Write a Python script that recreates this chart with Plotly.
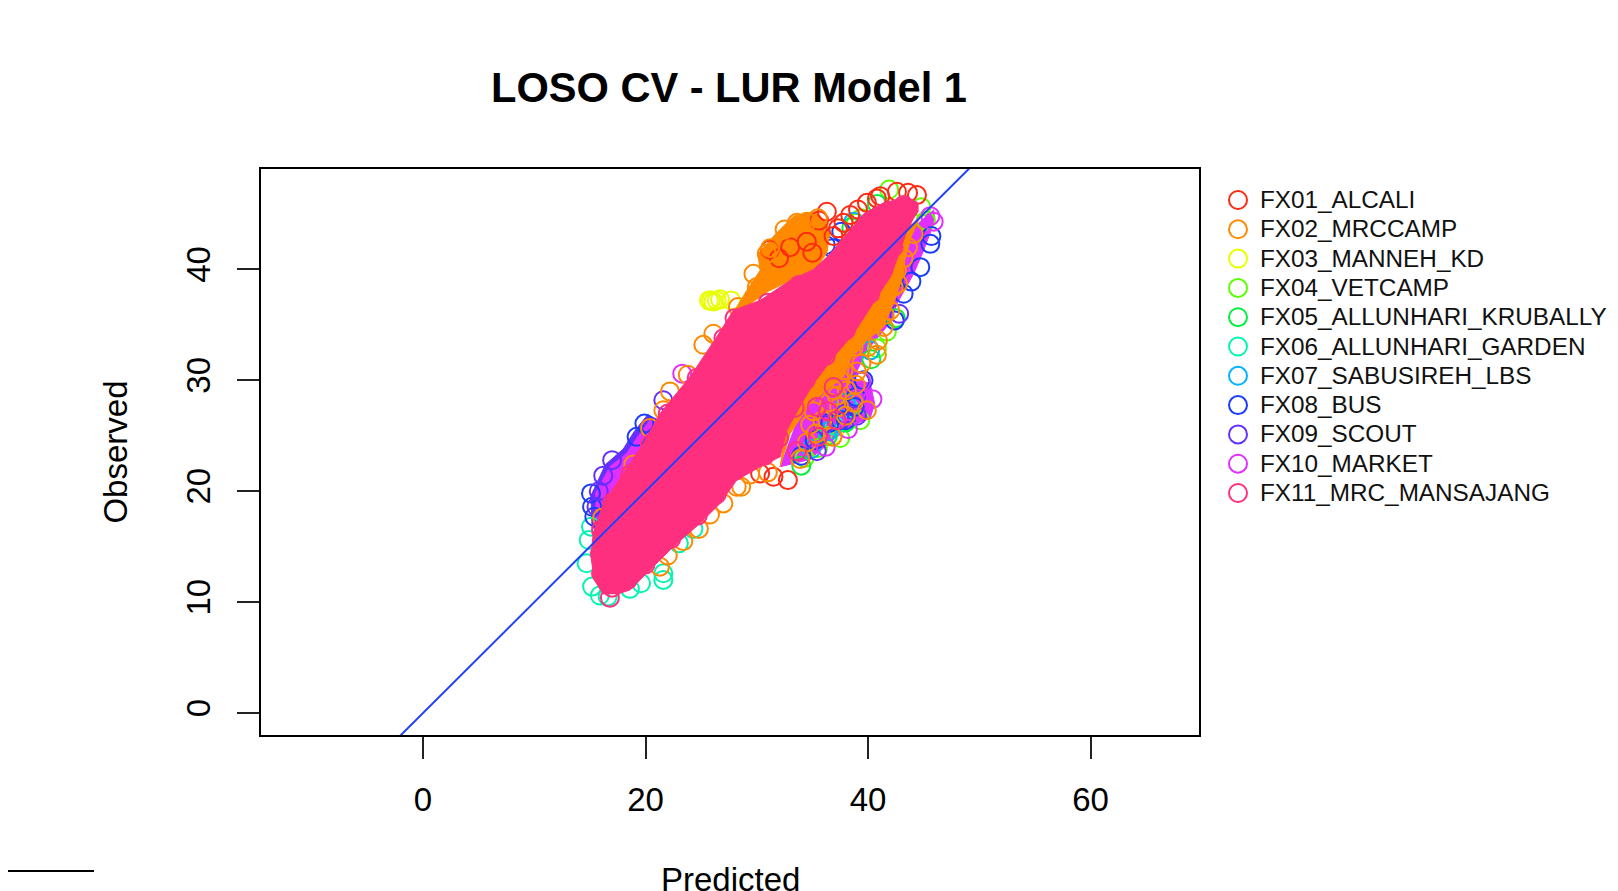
# LOSO CV scatter, observed vs predicted, one colour per left-out site
# the solid core of the cloud is read off as outlines, the stray rings one by one
import plotly.graph_objects as go

site_names = ['FX01_ALCALI', 'FX02_MRCCAMP', 'FX03_MANNEH_KD', 'FX04_VETCAMP',
              'FX05_ALLUNHARI_KRUBALLY', 'FX06_ALLUNHARI_GARDEN', 'FX07_SABUSIREH_LBS',
              'FX08_BUS', 'FX09_SCOUT', 'FX10_MARKET', 'FX11_MRC_MANSAJANG']
site_colors = ['#FF2A12', '#FF8A00', '#E8FF00', '#5DFF00', '#00F03C', '#00F5B0',
               '#00B4FF', '#1A3CFF', '#6430FF', '#E030FF', '#FF2F7F']

x_ticks = [0, 20, 40, 60]
y_ticks = [0, 10, 20, 30, 40]
one_to_one = [-20, 80]

# solid areas (outlines)
pink_mass_x = [16.2, 15.4, 15.1, 15.3, 16.2, 18.0, 19.8, 21.3, 24.0, 26.4, 27.9, 30.3, 33.0, 35.1, 36.6, 38.1, 39.6,
               41.4, 43.5, 44.5, 44.5, 44.1, 43.5, 42.9, 42.0, 41.0, 38.7, 36.9, 35.1, 34.2, 32.7, 32.1, 30.3,
               28.2, 26.7, 24.9, 22.5, 20.1, 18.6, 17.4]
pink_mass_y = [10.7, 12.0, 14.1, 16.2, 18.9, 21.6, 24.3, 27.0, 30.3, 33.9, 36.3, 37.2, 39.0, 40.0, 41.4, 43.2, 45.0,
               46.0, 46.5, 46.0, 45.2, 44.6, 43.5, 41.7, 39.3, 37.8, 34.2, 32.1, 29.7, 28.2, 25.5, 23.1, 22.2,
               21.0, 18.9, 17.1, 15.0, 12.6, 11.1, 10.7]
orange_top_x = [27.6, 29.1, 30.3, 30.1, 31.8, 33.3, 35.4, 36.6, 36.3, 35.4, 31.2]
orange_top_y = [35.6, 38.1, 39.9, 41.4, 43.3, 44.8, 45.2, 43.6, 41.5, 40.2, 38.1]
orange_low_x = [44.8, 43.9, 43.3, 43.2, 42.4, 41.4, 39.9, 38.4, 37.8, 36.3, 34.8, 33.0, 32.1, 33.0, 42.0]
orange_low_y = [45.0, 43.0, 40.8, 39.6, 37.2, 34.8, 33.6, 31.8, 30.3, 29.1, 27.9, 25.2, 22.2, 28.0, 42.0]
magenta_low_x = [45.9, 46.0, 45.0, 44.1, 42.6, 42.0, 39.9, 38.7, 40.2, 40.6, 40.2, 39.0, 37.2, 35.4, 34.5, 33.3, 32.1, 35.0, 42.0]
magenta_low_y = [45.4, 44.4, 41.7, 39.6, 36.9, 35.2, 32.7, 30.2, 29.7, 27.9, 26.6, 26.1, 24.9, 23.4, 22.8, 22.5, 22.2, 30.0, 42.0]
magenta_up_x = [15.6, 15.5, 16.8, 18.3, 19.3, 20.4, 22.0, 17.0]
magenta_up_y = [17.4, 19.8, 22.2, 23.4, 24.9, 26.4, 26.0, 17.0]
violet_up_x = [15.2, 15.1, 16.4, 18.0, 19.0, 20.2, 22.0, 17.0]
violet_up_y = [16.6, 19.6, 22.4, 23.8, 25.4, 26.9, 26.0, 17.0]

# single rings read from the edges of the cloud
red_x = [36.3, 35.6, 44.4, 43.6, 39.1, 38.4, 39.9, 40.8, 41.1, 42.6, 37.3, 37.8, 36.9, 32.8, 31.5, 30.3,
         33.0, 34.5, 35.0, 32.0, 31.2]
red_y = [45.2, 44.4, 46.7, 46.9, 45.4, 44.9, 46.0, 46.4, 46.6, 47.0, 43.7, 44.2, 43.0, 21.0, 21.3, 21.6,
         42.0, 42.5, 41.5, 41.0, 41.8]
orange_x = [30.9, 31.2, 32.5, 33.6, 34.5, 35.5, 30.0, 29.7, 25.2, 22.2, 23.8, 26.1, 28.3,
            42.6, 42.3, 44.1, 43.6, 41.4, 40.9, 42.0, 40.8, 39.4, 39.9, 38.7, 37.8, 38.1, 36.9, 35.1, 37.2,
            28.2, 27.0, 25.8, 21.3, 18.9, 16.1, 20.4, 21.6,
            35.9, 36.5, 37.4, 38.0, 38.7, 34.8, 35.3, 33.9, 34.5, 36.8, 38.9, 37.5, 39.0, 40.0, 41.5, 42.7, 43.2,
            29.4, 31.0, 28.6, 24.8, 22.0, 23.4]
orange_y = [41.4, 41.9, 43.6, 44.2, 44.3, 44.6, 38.4, 39.6, 33.2, 29.0, 30.5, 34.2, 36.6,
            39.9, 38.4, 43.2, 42.0, 34.8, 33.6, 36.3, 32.3, 31.5, 27.3, 33.0, 30.9, 29.1, 29.1, 27.2, 28.6,
            20.4, 18.9, 17.9, 13.2, 22.4, 17.6, 25.7, 27.3,
            26.4, 28.0, 27.6, 26.8, 28.0, 26.0, 25.2, 22.9, 24.4, 24.9, 29.6, 30.0, 30.8, 33.0, 35.9, 38.7, 41.0,
            21.5, 21.7, 20.4, 16.6, 14.2, 15.5]
yellow_x = [25.7, 25.9, 26.1, 26.4, 26.7, 27.7, 36.9]
yellow_y = [37.2, 37.2, 37.1, 37.2, 37.3, 37.2, 25.1]
green_x = [41.9, 44.8, 39.4, 41.7, 40.8, 37.5, 39.3, 35.5, 34.3, 38.9, 45.2]
green_y = [47.2, 45.6, 44.6, 34.4, 32.9, 24.8, 26.4, 23.9, 23.0, 44.2, 44.4]
spring_x = [38.5, 40.8, 34.0, 40.3, 42.5, 38.0, 36.4]
spring_y = [43.8, 45.9, 22.3, 31.9, 35.6, 26.2, 25.0]
teal_x = [21.6, 21.6, 19.6, 14.7, 15.2, 15.9, 24.3, 23.0, 14.9, 16.6, 15.1, 18.6, 37.0, 38.3]
teal_y = [12.0, 12.6, 11.7, 13.5, 11.4, 10.6, 16.6, 15.3, 15.6, 10.5, 16.8, 11.2, 25.9, 27.5]
sky_x = [38.7, 40.2, 34.9, 36.4, 38.0]
sky_y = [44.3, 32.7, 23.8, 25.4, 28.0]
blue_x = [45.7, 45.6, 44.7, 43.9, 43.2, 42.4, 39.3, 39.6, 38.8, 38.0, 15.2, 15.4, 19.2, 19.9, 34.0, 37.5, 36.2,
          37.6, 36.8, 38.9, 36.6, 35.2, 15.1]
blue_y = [43.0, 42.3, 40.2, 38.9, 37.8, 35.4, 29.9, 30.0, 27.6, 26.4, 18.6, 17.7, 24.9, 26.1, 23.2, 26.4, 42.2,
          43.4, 41.9, 28.5, 26.2, 24.6, 19.8]
violet_x = [15.8, 21.6, 17.0, 16.2, 42.8, 35.4, 15.6, 39.0, 37.9, 36.0]
violet_y = [20.0, 28.2, 22.8, 21.4, 36.0, 23.6, 18.6, 26.8, 27.0, 26.0]
magenta_x = [45.6, 45.9, 40.4, 39.4, 23.3, 38.2, 36.2]
magenta_y = [44.8, 44.3, 28.3, 29.9, 30.6, 25.6, 24.0]
pink_x = [17.0, 18.4, 20.0, 22.3, 24.7, 26.4, 28.0, 30.7, 16.0, 15.9, 16.0, 17.0, 18.6, 20.4, 22.0, 24.6, 27.0,
          28.0, 31.0, 33.8, 36.6, 38.8, 41.2, 43.2, 43.0, 42.3, 41.4, 40.2, 38.0, 36.2, 34.4, 33.4, 32.0,
          16.8, 36.4, 36.9, 37.2, 35.5, 33.6, 35.4]
pink_y = [11.3, 12.0, 13.4, 15.7, 17.8, 19.7, 21.8, 23.2, 12.6, 14.4, 16.5, 19.0, 21.5, 24.2, 27.0, 30.2, 33.8,
          35.6, 37.0, 38.6, 39.8, 42.3, 44.6, 45.8, 44.2, 42.0, 40.0, 37.8, 34.5, 32.2, 30.0, 27.5, 24.8,
          10.4, 27.2, 29.4, 26.4, 24.9, 23.6, 27.6]

fig = go.Figure()


def add_mass(xs, ys, color):
    fig.add_trace(go.Scatter(x=xs, y=ys, mode='lines', fill='toself', fillcolor=color,
                             line=dict(color=color, width=1), hoverinfo='skip', showlegend=False))


def add_rings(xs, ys, color, name):
    fig.add_trace(go.Scatter(x=xs, y=ys, mode='markers', name=name, showlegend=False,
                             marker=dict(symbol='circle-open', size=18, color=color, line=dict(width=2))))


add_mass(violet_up_x, violet_up_y, site_colors[8])
add_mass(magenta_low_x, magenta_low_y, site_colors[9])
add_mass(magenta_up_x, magenta_up_y, site_colors[9])
add_rings(yellow_x, yellow_y, site_colors[2], site_names[2])
add_rings(green_x, green_y, site_colors[3], site_names[3])
add_rings(spring_x, spring_y, site_colors[4], site_names[4])
add_rings(teal_x, teal_y, site_colors[5], site_names[5])
add_rings(sky_x, sky_y, site_colors[6], site_names[6])
add_rings(blue_x, blue_y, site_colors[7], site_names[7])
add_rings(violet_x, violet_y, site_colors[8], site_names[8])
add_rings(magenta_x, magenta_y, site_colors[9], site_names[9])
add_mass(orange_top_x, orange_top_y, site_colors[1])
add_mass(orange_low_x, orange_low_y, site_colors[1])
add_rings(red_x, red_y, site_colors[0], site_names[0])
add_rings(orange_x, orange_y, site_colors[1], site_names[1])
add_mass(pink_mass_x, pink_mass_y, site_colors[10])
add_rings(pink_x, pink_y, site_colors[10], site_names[10])

fig.add_trace(go.Scatter(x=one_to_one, y=one_to_one, mode='lines', showlegend=False,
                         line=dict(color='#2040FF', width=2), hoverinfo='skip'))

# R style legend: plotly's own legend cannot get rows this tight, so it gets a small subplot in page pixels
rows = [200 + 29.3 * i for i in range(len(site_names))]
fig.add_trace(go.Scatter(x=[1238] * len(rows), y=rows, mode='markers', xaxis='x2', yaxis='y2',
                         showlegend=False, hoverinfo='skip',
                         marker=dict(symbol='circle-open', size=18, color=site_colors, line=dict(width=2))))
fig.add_trace(go.Scatter(x=[1260] * len(rows), y=[r + 2 for r in rows], mode='text', xaxis='x2', yaxis='y2',
                         text=site_names, textposition='middle right', showlegend=False, hoverinfo='skip',
                         cliponaxis=False, textfont=dict(size=24.3, color='#111111')))

# the page body has an 8 px margin, so the figure is 8 px smaller than the window
fig.update_layout(
    width=1610, height=883, autosize=False,
    margin=dict(l=0, r=0, t=0, b=0, autoexpand=False),
    paper_bgcolor='white', plot_bgcolor='white',
    font=dict(family='Liberation Sans', color='black'),
    title=dict(text='<b>LOSO CV - LUR Model 1</b>', font=dict(size=41.6), x=721 / 1610, xanchor='center',
               xref='container', y=1 - 79 / 883, yanchor='middle'),
    xaxis=dict(domain=[253 / 1610, 1191 / 1610], range=[-14.56, 69.75], tickvals=x_ticks, ticks='outside',
               ticklen=22, tickwidth=1.5, tickcolor='#222222', showline=True, linecolor='black', linewidth=1.6,
               mirror=True, showgrid=False, zeroline=False, tickfont=dict(size=33), ticklabelstandoff=13),
    yaxis=dict(domain=[1 - 727 / 883, 1 - 161 / 883], range=[-1.98, 49.05], tickvals=y_ticks, ticks='outside',
               ticklen=22, tickwidth=1.5, tickcolor='#222222', showline=True, linecolor='black', linewidth=1.6,
               mirror=True, showgrid=False, zeroline=False, tickfont=dict(size=33), tickangle=-90,
               ticklabelstandoff=14, title=dict(text='Observed', font=dict(size=33), standoff=42)),
    xaxis2=dict(domain=[1192 / 1610, 1], range=[1200, 1618], anchor='y2', visible=False),
    yaxis2=dict(domain=[0, 1], range=[891, 8], anchor='x2', visible=False),
    # short black stroke in the bottom left corner of the screenshot
    shapes=[dict(type='line', xref='paper', yref='paper', x0=0, x1=86 / 1610, y0=1 - 863 / 883, y1=1 - 863 / 883,
                 line=dict(color='black', width=2))],
    # the x axis title runs off the bottom of the picture, an axis title would get pushed back inside
    annotations=[dict(text='Predicted', xref='paper', yref='paper', x=722 / 1610, y=0, xanchor='center',
                      yanchor='middle', yshift=12, showarrow=False, font=dict(size=33))],
)

fig.write_html("out.html")
